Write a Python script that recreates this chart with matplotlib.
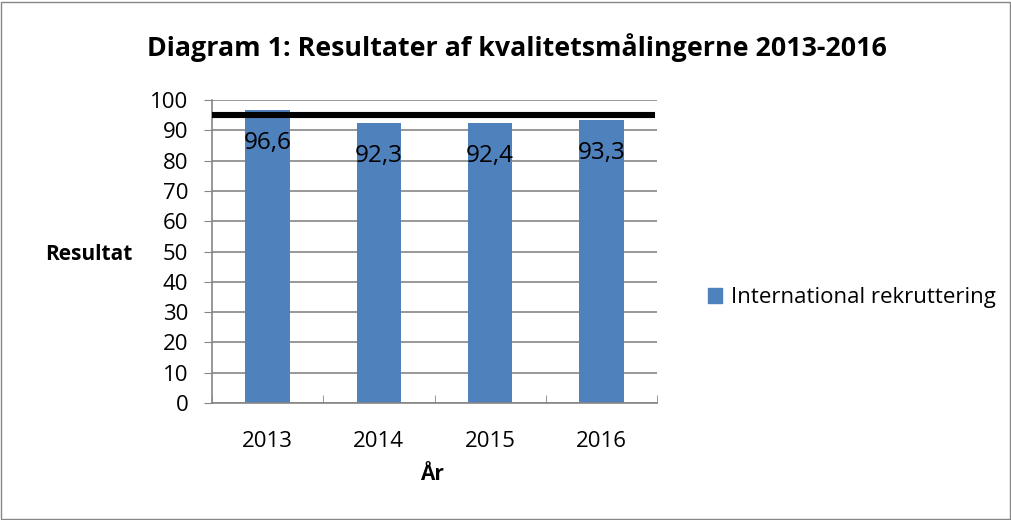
import matplotlib.pyplot as plt
import matplotlib.patches as mpatches

years = ['2013', '2014', '2015', '2016']
results = [96.6, 92.3, 92.4, 93.3]
value_labels = ['96,6', '92,3', '92,4', '93,3']
target = 95
series_name = 'International rekruttering'

plt.rcParams['font.family'] = ['Open Sans', 'DejaVu Sans']

W, H = 1012, 520
fig = plt.figure(figsize=(W / 100, H / 100), dpi=100)
# plot area in pixels: x 212..657, y 100..403
ax = fig.add_axes([212 / W, 1 - 403 / H, 445 / W, 303 / H])

x = range(len(years))
bars = ax.bar(x, results, width=0.4, color='#4F81BD', zorder=2, label=series_name)
ax.hlines(target, -0.5, 3.48, color='black', linewidth=4.4, zorder=3)

for b, lab in zip(bars, value_labels):
    ax.annotate(lab, (b.get_x() + b.get_width() / 2, b.get_height()),
                xytext=(0, -15), textcoords='offset points',
                ha='center', va='top', fontsize=17.5, color='black', zorder=4)

ax.set_xlim(-0.5, 3.5)
ax.set_ylim(0, 100)
ax.set_yticks(range(0, 101, 10))
ax.set_xticks(x)
ax.set_xticklabels(years)
ax.yaxis.grid(True, color='#868686', linewidth=1.2, zorder=0)
ax.tick_params(axis='y', length=6, color='#868686', labelsize=16, pad=11)
ax.tick_params(axis='x', length=0, labelsize=16, pad=20)
# category separator ticks, Excel style
ax.set_xticks([-0.5, 0.5, 1.5, 2.5, 3.5], minor=True)
ax.tick_params(axis='x', which='minor', length=6, color='#868686', direction='in')
for s in ['top', 'right']:
    ax.spines[s].set_visible(False)
for s in ['left', 'bottom']:
    ax.spines[s].set_color('#868686')
    ax.spines[s].set_linewidth(1.2)

fig.text(89 / W, 1 - 255 / H, 'Resultat', fontsize=15, fontweight='bold',
         ha='center', va='center')
fig.text(432 / W, 1 - 475 / H, 'År', fontsize=15, fontweight='bold',
         ha='center', va='center')
fig.text(517 / W, 1 - 48 / H, 'Diagram 1: Resultater af kvalitetsmålingerne 2013-2016',
         fontsize=19.3, fontweight='bold', ha='center', va='center')

handle = mpatches.Patch(color='#4F81BD', label=series_name)
fig.legend(handles=[handle], loc='center left', bbox_to_anchor=(688 / W, 1 - 298 / H),
           frameon=False, fontsize=16, handlelength=0.65, handleheight=0.65,
           handletextpad=0.4)

fig.patches.append(mpatches.Rectangle((0.001, 0.002), 0.997, 0.995, transform=fig.transFigure,
                                      fill=False, edgecolor='#868686', linewidth=1))

fig.savefig('out.png', dpi=100)
